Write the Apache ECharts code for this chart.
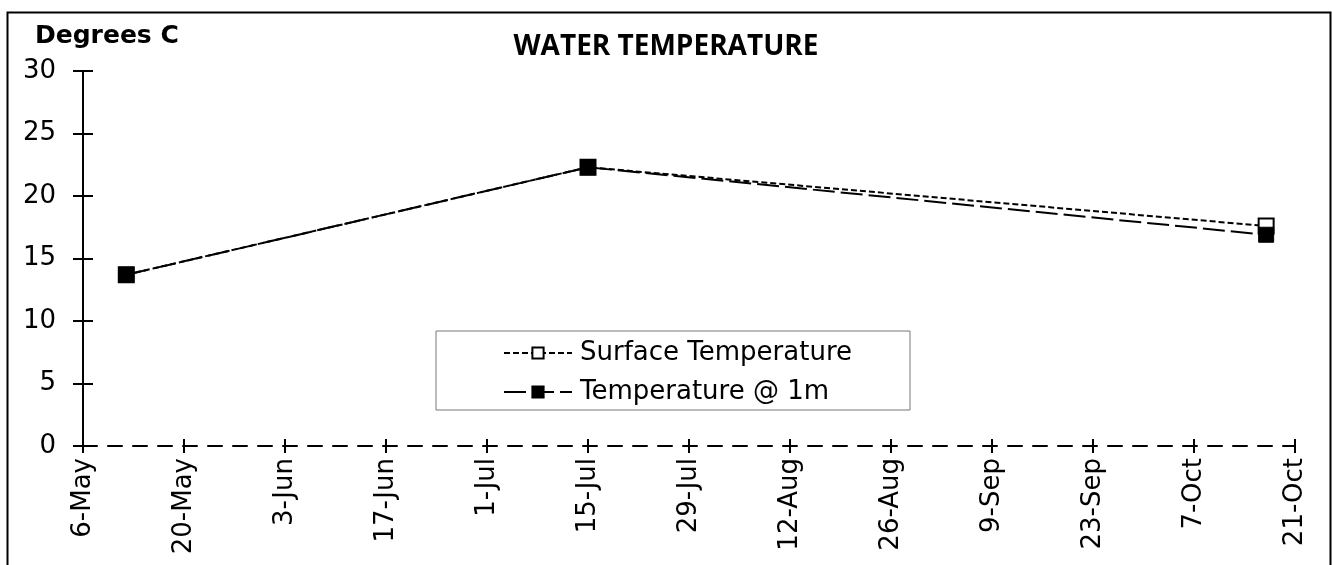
<!DOCTYPE html>
<html>
<head>
<meta charset="utf-8">
<script src="https://cdn.jsdelivr.net/npm/echarts@6/dist/echarts.min.js"></script>
<style>
html,body{margin:0;padding:0;background:#fff;}
#chart{width:1332px;height:565px;}
</style>
</head>
<body>
<div id="chart"></div>
<script>
// ---- data ----
const axisStart = '2002-05-06';
const sampleDates = ['2002-05-12', '2002-07-15', '2002-10-17'];
const surfaceTemp = [13.7, 22.3, 17.6];
const temp1m = [13.7, 22.3, 16.9];
const xTickLabels = ['6-May','20-May','3-Jun','17-Jun','1-Jul','15-Jul','29-Jul','12-Aug','26-Aug','9-Sep','23-Sep','7-Oct','21-Oct'];
const yTicks = [0, 5, 10, 15, 20, 25, 30];

const DAY = 86400000;
const t0 = Date.parse(axisStart + 'T00:00:00Z');
function dayOffset(s){ return Math.round((Date.parse(s + 'T00:00:00Z') - t0) / DAY); }
const xMax = (xTickLabels.length - 1) * 14;

const font = 'DejaVu Sans';
const chart = echarts.init(document.getElementById('chart'), null, {renderer:'canvas'});

const xBase = {
  type: 'value', min: 0, max: xMax, interval: 14,
  splitLine: {show:false}
};
const yBase = {
  type: 'value', min: 0, max: 30, interval: 5,
  splitLine: {show:false}
};

chart.setOption({
  animation: false,
  backgroundColor: '#fff',
  title: [
    {text: 'WATER TEMPERATURE', left: 'center', top: 33, padding: 0,
     textStyle: {fontFamily: 'Open Sans', fontWeight: 'bold', fontSize: 28, color: '#000'}},
    {text: 'Degrees C', left: 35, top: 24, padding: 0,
     textStyle: {fontFamily: font, fontWeight: 'bold', fontSize: 25, color: '#000'}}
  ],
  graphic: [
    {type: 'rect', left: 5, top: 10, shape: {x: 0, y: 0, width: 1323, height: 600},
     style: {fill: 'none', stroke: '#000', lineWidth: 2}, silent: true, z: -1}
  ],
  grid: {left: 83, right: 37, top: 71, bottom: 119},
  legend: {
    orient: 'vertical', left: 436, top: 331,
    backgroundColor: '#fff', borderColor: '#777', borderWidth: 1,
    padding: [9, 58, 5, 67], itemGap: 13,
    itemWidth: 68, itemHeight: 14,
    textStyle: {fontFamily: font, fontSize: 26, color: '#000', padding: [0,0,0,3]},
    data: ['Surface Temperature', 'Temperature @ 1m']
  },
  xAxis: [
    Object.assign({}, xBase, {
      position: 'bottom',
      axisLine: {show: true, onZero: false, lineStyle: {color: '#000', width: 2, type: [14, 11]}},
      axisTick: {show: true, length: 7, lineStyle: {color: '#000', width: 2}},
      axisLabel: {show: true, rotate: 90, margin: 12, fontFamily: font, fontSize: 26, color: '#000',
        formatter: function(v){ return xTickLabels[Math.round(v / 14)] || ''; }}
    }),
    Object.assign({}, xBase, {
      position: 'bottom',
      axisLine: {show: false},
      axisTick: {show: true, inside: true, length: 7, lineStyle: {color: '#000', width: 2}},
      axisLabel: {show: false}
    })
  ],
  yAxis: [
    Object.assign({}, yBase, {
      position: 'left',
      axisLine: {show: true, lineStyle: {color: '#000', width: 2}},
      axisTick: {show: true, length: 10, lineStyle: {color: '#000', width: 2}},
      axisLabel: {show: true, margin: 27, fontFamily: font, fontSize: 26, color: '#000',
        formatter: function(v){ return yTicks.indexOf(v) >= 0 ? String(v) : ''; }}
    }),
    Object.assign({}, yBase, {
      position: 'left',
      axisLine: {show: false},
      axisTick: {show: true, inside: true, length: 10, lineStyle: {color: '#000', width: 2}},
      axisLabel: {show: false}
    })
  ],
  series: [
    {
      name: 'Surface Temperature', type: 'line', xAxisIndex: 0, yAxisIndex: 0,
      data: sampleDates.map((d, i) => [dayOffset(d), surfaceTemp[i]]),
      symbol: 'rect', symbolSize: 15,
      lineStyle: {color: '#000', width: 2, type: [6, 3]},
      itemStyle: {color: '#fff', borderColor: '#000', borderWidth: 2},
      z: 2
    },
    {
      name: 'Temperature @ 1m', type: 'line', xAxisIndex: 0, yAxisIndex: 0,
      data: sampleDates.map((d, i) => [dayOffset(d), temp1m[i]]),
      symbol: 'rect', symbolSize: 15,
      lineStyle: {color: '#000', width: 2, type: [22, 6]},
      itemStyle: {color: '#000', borderColor: '#000', borderWidth: 1},
      z: 3
    }
  ]
});
</script>
</body>
</html>
